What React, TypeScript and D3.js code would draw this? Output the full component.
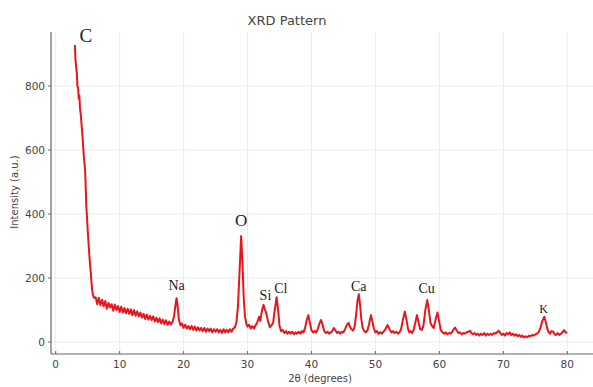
import React from "react";
import * as d3 from "d3";

const twoTheta = [
  3.0, 3.1, 3.2, 3.3, 3.4, 3.5, 3.6, 3.7, 3.8, 3.9, 4.0, 4.2, 4.4, 4.6, 4.8, 4.9, 5.0, 5.1, 5.2, 5.3, 5.4, 5.5, 5.6, 5.7, 5.8, 5.9, 6.0,
  6.25, 6.5, 6.75, 7.0, 7.25, 7.5, 7.75, 8.0, 8.25, 8.5, 8.75, 9.0, 9.25, 9.5, 9.75, 10.0, 10.25, 10.5, 10.75, 11.0, 11.25, 11.5, 11.75,
  12.0, 12.25, 12.5, 12.75, 13.0, 13.25, 13.5, 13.75, 14.0, 14.25, 14.5, 14.75, 15.0, 15.25, 15.5, 15.75, 16.0, 16.25, 16.5, 16.75,
  17.0, 17.25, 17.5, 17.75, 18.0, 18.25, 18.5, 18.75, 18.9, 19.05, 19.25, 19.5, 19.75, 20.0, 20.25, 20.5, 20.75, 21.0, 21.25, 21.5,
  21.75, 22.0, 22.25, 22.5, 22.75, 23.0, 23.25, 23.5, 23.75, 24.0, 24.25, 24.5, 24.75, 25.0, 25.25, 25.5, 25.75, 26.0, 26.25, 26.5,
  26.75, 27.0, 27.25, 27.5, 27.75, 28.0, 28.25, 28.5, 28.75, 29.0, 29.2, 29.4, 29.6, 29.8, 30.0, 30.25, 30.5, 30.75, 31.0, 31.25,
  31.5, 31.8, 32.0, 32.25, 32.5, 32.75, 32.9, 33.1, 33.3, 33.5, 33.75, 34.0, 34.25, 34.55, 34.8, 35.0, 35.25, 35.5, 35.75, 36.0,
  36.25, 36.5, 36.75, 37.0, 37.25, 37.5, 37.75, 38.0, 38.25, 38.5, 38.75, 39.0, 39.25, 39.5, 39.75, 40.0, 40.25, 40.5, 40.75, 41.0,
  41.25, 41.5, 41.75, 42.0, 42.25, 42.5, 42.75, 43.0, 43.25, 43.5, 43.75, 44.0, 44.25, 44.5, 44.75, 45.0, 45.25, 45.5, 45.8, 46.0,
  46.25, 46.5, 46.75, 47.0, 47.2, 47.4, 47.6, 47.8, 48.0, 48.25, 48.5, 48.75, 49.0, 49.3, 49.5, 49.75, 50.0, 50.25, 50.5, 50.75,
  51.0, 51.25, 51.5, 51.9, 52.2, 52.5, 52.75, 53.0, 53.25, 53.5, 53.75, 54.0, 54.3, 54.6, 54.85, 55.1, 55.3, 55.5, 55.75, 56.0,
  56.25, 56.5, 56.75, 57.0, 57.25, 57.5, 57.8, 58.1, 58.35, 58.6, 58.9, 59.1, 59.4, 59.7, 59.95, 60.2, 60.5, 60.75, 61.0, 61.25,
  61.5, 61.75, 62.0, 62.25, 62.45, 62.7, 63.0, 63.25, 63.5, 63.75, 64.0, 64.25, 64.5, 64.8, 65.0, 65.25, 65.5, 65.75, 66.0, 66.25,
  66.5, 66.75, 67.0, 67.25, 67.5, 67.75, 68.0, 68.25, 68.5, 68.75, 69.0, 69.3, 69.6, 69.75, 70.0, 70.25, 70.5, 70.75, 71.0, 71.25,
  71.5, 71.75, 72.0, 72.25, 72.5, 72.75, 73.0, 73.25, 73.5, 73.75, 74.0, 74.25, 74.5, 74.75, 75.0, 75.25, 75.5, 75.8, 76.1, 76.4,
  76.65, 76.9, 77.1, 77.3, 77.5, 77.8, 78.0, 78.25, 78.5, 78.75, 79.0, 79.25, 79.5, 79.75, 80.0,
];

const intensity = [
  928, 880, 860, 840, 800, 795, 760, 770, 730, 715, 690, 640, 580, 537, 420, 390, 350, 320, 290, 260, 235, 215, 185, 162, 150, 142, 138,
  140, 118, 138, 115, 132, 112, 128, 104, 122, 108, 118, 98, 117, 100, 112, 94, 110, 92, 106, 90, 104, 88, 102,
  84, 100, 82, 96, 80, 92, 76, 88, 72, 86, 70, 82, 68, 80, 64, 76, 62, 74, 58, 70,
  56, 68, 54, 64, 55, 62, 80, 118, 137, 115, 72, 52, 58, 44, 54, 42, 50, 40, 50, 38,
  48, 36, 46, 36, 44, 34, 44, 32, 42, 34, 42, 30, 40, 32, 40, 30, 38, 28, 40, 30,
  38, 30, 40, 32, 42, 45, 60, 110, 220, 331, 250, 140, 80, 58, 48, 54, 42, 50, 42, 52,
  60, 79, 66, 98, 116, 100, 92, 74, 58, 46, 52, 60, 100, 140, 95, 50, 34, 38, 28, 34,
  26, 32, 26, 32, 24, 30, 26, 32, 26, 34, 30, 44, 68, 84, 60, 36, 30, 34, 30, 42,
  58, 69, 52, 34, 28, 32, 26, 30, 34, 44, 36, 28, 32, 26, 32, 30, 40, 52, 60, 48,
  40, 36, 48, 90, 130, 149, 115, 70, 44, 34, 30, 36, 56, 84, 66, 42, 30, 34, 26, 30,
  26, 32, 38, 53, 40, 30, 34, 28, 32, 26, 30, 40, 70, 95, 70, 40, 30, 34, 28, 40,
  62, 84, 60, 40, 38, 50, 100, 131, 100, 60, 48, 44, 70, 92, 66, 38, 30, 26, 30, 24,
  28, 26, 32, 40, 45, 36, 28, 30, 24, 28, 26, 30, 32, 35, 28, 24, 28, 22, 26, 20,
  26, 22, 28, 20, 26, 22, 26, 22, 28, 26, 30, 35, 26, 22, 26, 20, 28, 24, 30, 22,
  26, 20, 24, 18, 22, 16, 20, 14, 18, 15, 20, 18, 22, 20, 24, 26, 30, 44, 66, 79,
  62, 40, 30, 26, 34, 32, 24, 22, 28, 22, 26, 30, 37, 30, 29,
];

// element labels and the 2θ / intensity where they sit
const peakNames = ["C", "Na", "O", "Si", "Cl", "Ca", "Cu", "K"];
const peakTheta = [4.7, 18.9, 29.0, 32.8, 35.2, 47.4, 58.0, 76.3];
const peakLabelY = [937, 162, 362, 131, 153, 159, 153, 90];
const peakSizes = [19, 14, 17, 14, 14, 14, 14, 12];

const xTicks = [0, 10, 20, 30, 40, 50, 60, 70, 80];
const yTicks = [0, 200, 400, 600, 800];

const W = 593;
const H = 387;

const App: React.FC = () => {
  const x = d3.scaleLinear().domain([0, 80]).range([55.7, 567.3]);
  const y = d3.scaleLinear().domain([0, 800]).range([342, 86]);

  const left = 51;
  const right = W;
  const top = 32;
  const bottom = 354;

  const points: [number, number][] = twoTheta.map((t, i) => [t, intensity[i]]);
  const line = d3
    .line<[number, number]>()
    .x((d) => x(d[0]))
    .y((d) => y(d[1]));

  const tickFont = "DejaVu Sans, sans-serif";

  return (
    <svg
      width={W}
      height={H}
      style={{ position: "absolute", left: 0, top: 0, background: "#fff" }}
    >
      {/* grid */}
      <g stroke="#e6e6e6" strokeWidth={0.8}>
        {xTicks.map((t) => (
          <line key={"gx" + t} x1={x(t)} x2={x(t)} y1={top} y2={bottom} />
        ))}
        {yTicks.map((t) => (
          <line key={"gy" + t} x1={left} x2={right} y1={y(t)} y2={y(t)} />
        ))}
      </g>

      {/* spines */}
      <line x1={left} x2={left} y1={top} y2={bottom} stroke="#666" strokeWidth={1.2} />
      <line x1={left} x2={right} y1={bottom} y2={bottom} stroke="#666" strokeWidth={1.2} />

      {/* x ticks */}
      {xTicks.map((t) => (
        <g key={"xt" + t}>
          <line x1={x(t)} x2={x(t)} y1={bottom} y2={bottom - 3} stroke="#666" strokeWidth={1} />
          <text
            x={x(t)}
            y={368}
            textAnchor="middle"
            fontFamily={tickFont}
            fontSize={10.5}
            fill="#444"
          >
            {t}
          </text>
        </g>
      ))}

      {/* y ticks */}
      {yTicks.map((t) => (
        <g key={"yt" + t}>
          <line x1={left} x2={left - 3} y1={y(t)} y2={y(t)} stroke="#666" strokeWidth={1} />
          <text
            x={45}
            y={y(t) + 3.8}
            textAnchor="end"
            fontFamily={tickFont}
            fontSize={10.5}
            fill="#444"
          >
            {t}
          </text>
        </g>
      ))}

      {/* axis labels and title */}
      <text x={320} y={382} textAnchor="middle" fontFamily={tickFont} fontSize={10} fill="#444">
        2θ (degrees)
      </text>
      <text
        transform="translate(18,192) rotate(-90)"
        textAnchor="middle"
        fontFamily={tickFont}
        fontSize={10}
        fill="#444"
      >
        Intensity (a.u.)
      </text>
      <text x={287} y={25} textAnchor="middle" fontFamily={tickFont} fontSize={13} fill="#444">
        XRD Pattern
      </text>

      {/* pattern */}
      <path
        d={line(points) || ""}
        fill="none"
        stroke="#e8161b"
        strokeWidth={2}
        strokeLinejoin="round"
      />

      {/* element labels */}
      {peakNames.map((n, i) => (
        <text
          key={n}
          x={x(peakTheta[i])}
          y={y(peakLabelY[i])}
          textAnchor="middle"
          fontFamily="Liberation Serif, serif"
          fontSize={peakSizes[i]}
          fill="#222"
        >
          {n}
        </text>
      ))}
    </svg>
  );
};

export default App;
